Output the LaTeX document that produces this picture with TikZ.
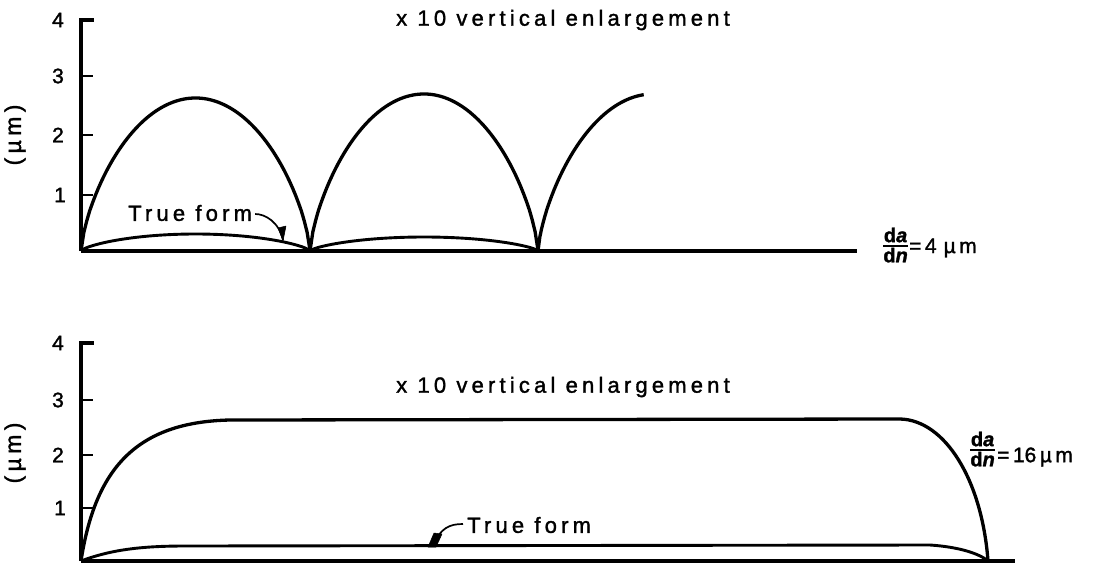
\documentclass[tikz,border=0pt]{standalone}
\usepackage{fontspec}
\setmainfont{Liberation Sans}[FakeBold=1.5]
\newfontfamily\spaced{Liberation Sans}[LetterSpace=19,FakeBold=1.5]
\newfontfamily\plainbold{Liberation Sans}[FakeBold=1.5]
\begin{document}
\begin{tikzpicture}[x=1pt,y=-1pt,
  curve/.style={line width=3.3pt, line join=round},
  tform/.style={line width=2.9pt, line join=round},
  axisline/.style={line width=3.4pt},
  tickline/.style={line width=2pt},
  leader/.style={line width=1.7pt},
  wedge/.style={fill=black, draw=black, line width=0.5pt, line join=round},
  lbl/.style={font=\fontsize{22}{24}\selectfont\spaced, inner sep=0pt},
  num/.style={font=\fontsize{21}{23}\selectfont\plainbold, inner sep=0pt},
  unit/.style={font=\fontsize{23}{25}\selectfont\spaced, inner sep=0pt, rotate=90},
  frac/.style={font=\fontsize{20}{21}\selectfont\bfseries, inner sep=0pt}]
\useasboundingbox (0,0) rectangle (1093,563);

% ================= TOP PLOT =================
\draw[axisline] (81,251) -- (81,20) -- (94,20);
\foreach \yy in {76,135,195}{\draw[tickline] (81,\yy) -- (93,\yy);}
\node[num] (t4) at (58,20) {4};
\node[num] (t3) at (58,76) {3};
\node[num] (t2) at (58,135) {2};
\node[num] (t1) at (60,195) {1};
\node[unit] (unitA) at (15,135) {(µm)};
\draw[axisline] (81,251) -- (857,251);

% large arches
\draw[curve] plot[domain=-1:1,samples=81] ({195.5+114.5*\x},{251-153*pow(max(1-\x*\x,0.000001),0.7)});
\draw[curve] plot[domain=-1:1,samples=81] ({424+114*\x},{251-157*pow(max(1-\x*\x,0.000001),0.7)});
\draw[curve] plot[domain=-1:-0.08,samples=60] ({653+115*\x},{251-157*pow(max(1-\x*\x,0.000001),0.7)});

% true form arches
\draw[tform] plot[domain=-1:1,samples=61] ({195.5+114.5*\x},{251-17*pow(max(1-\x*\x,0.000001),0.7)});
\draw[tform] plot[domain=-1:1,samples=61] ({424+114*\x},{251-14*pow(max(1-\x*\x,0.000001),0.7)});

\node[lbl, anchor=west] (tfA) at (128,213) {True form};
\coordinate (tfAend) at (283,240);
\draw[leader] (tfA.east) ++(3,1) .. controls +(10,0) and (279,222) .. (tfAend);
\fill[wedge] (278,228) -- (286,226) -- (283,241) -- cycle;

\node[lbl] (encA) at (563,20) {x 10 vertical enlargement};

\node[frac, anchor=east] (fracA) at (908,248)
  {\begin{tabular}{@{}c@{}}d\itshape a\\[-3pt]\noalign{\hrule height 1.8pt}\rule{0pt}{15pt}d\itshape n\end{tabular}};
\node[num, anchor=west] (eqA) at ([xshift=1pt]fracA.east) {=\,4\,\,µ\,m};

% ================= BOTTOM PLOT =================
\draw[axisline] (81,561) -- (81,343) -- (94,343);
\foreach \yy in {400,455,508}{\draw[tickline] (81,\yy) -- (93,\yy);}
\node[num] (b4) at (58,343) {4};
\node[num] (b3) at (58,400) {3};
\node[num] (b2) at (58,455) {2};
\node[num] (b1) at (60,508) {1};
\node[unit] (unitB) at (15,453) {(µm)};
\draw[axisline] (81,561) -- (1015,561);

\draw[curve] (81,561) .. controls (95,470) and (135,422) .. (230,420)
  -- (900,419) .. controls (945,420) and (982,480) .. (988,561);
\draw[tform] (81,561) .. controls (110,550) and (140,546) .. (185,546)
  -- (930,545) .. controls (960,547) and (980,554) .. (988,561);

\node[lbl, anchor=west] (tfB) at (467,525) {True form};
\coordinate (tfBend) at (432,546);
\draw[leader] (tfB.west) ++(-4,-1) .. controls +(-14,0) and (441,528) .. (tfBend);
\fill[wedge] (434,533) -- (442,534) -- (436,547) -- (428,547) -- cycle;

\node[lbl] (encB) at (563,387) {x 10 vertical enlargement};

\node[frac, anchor=east] (fracB) at (995,452)
  {\begin{tabular}{@{}c@{}}d\itshape a\\[-3pt]\noalign{\hrule height 1.8pt}\rule{0pt}{15pt}d\itshape n\end{tabular}};
\node[num, anchor=west] (eqB) at ([xshift=2pt,yshift=-5pt]fracB.east) {=\,16\,µ\,m};
\end{tikzpicture}
\end{document}
